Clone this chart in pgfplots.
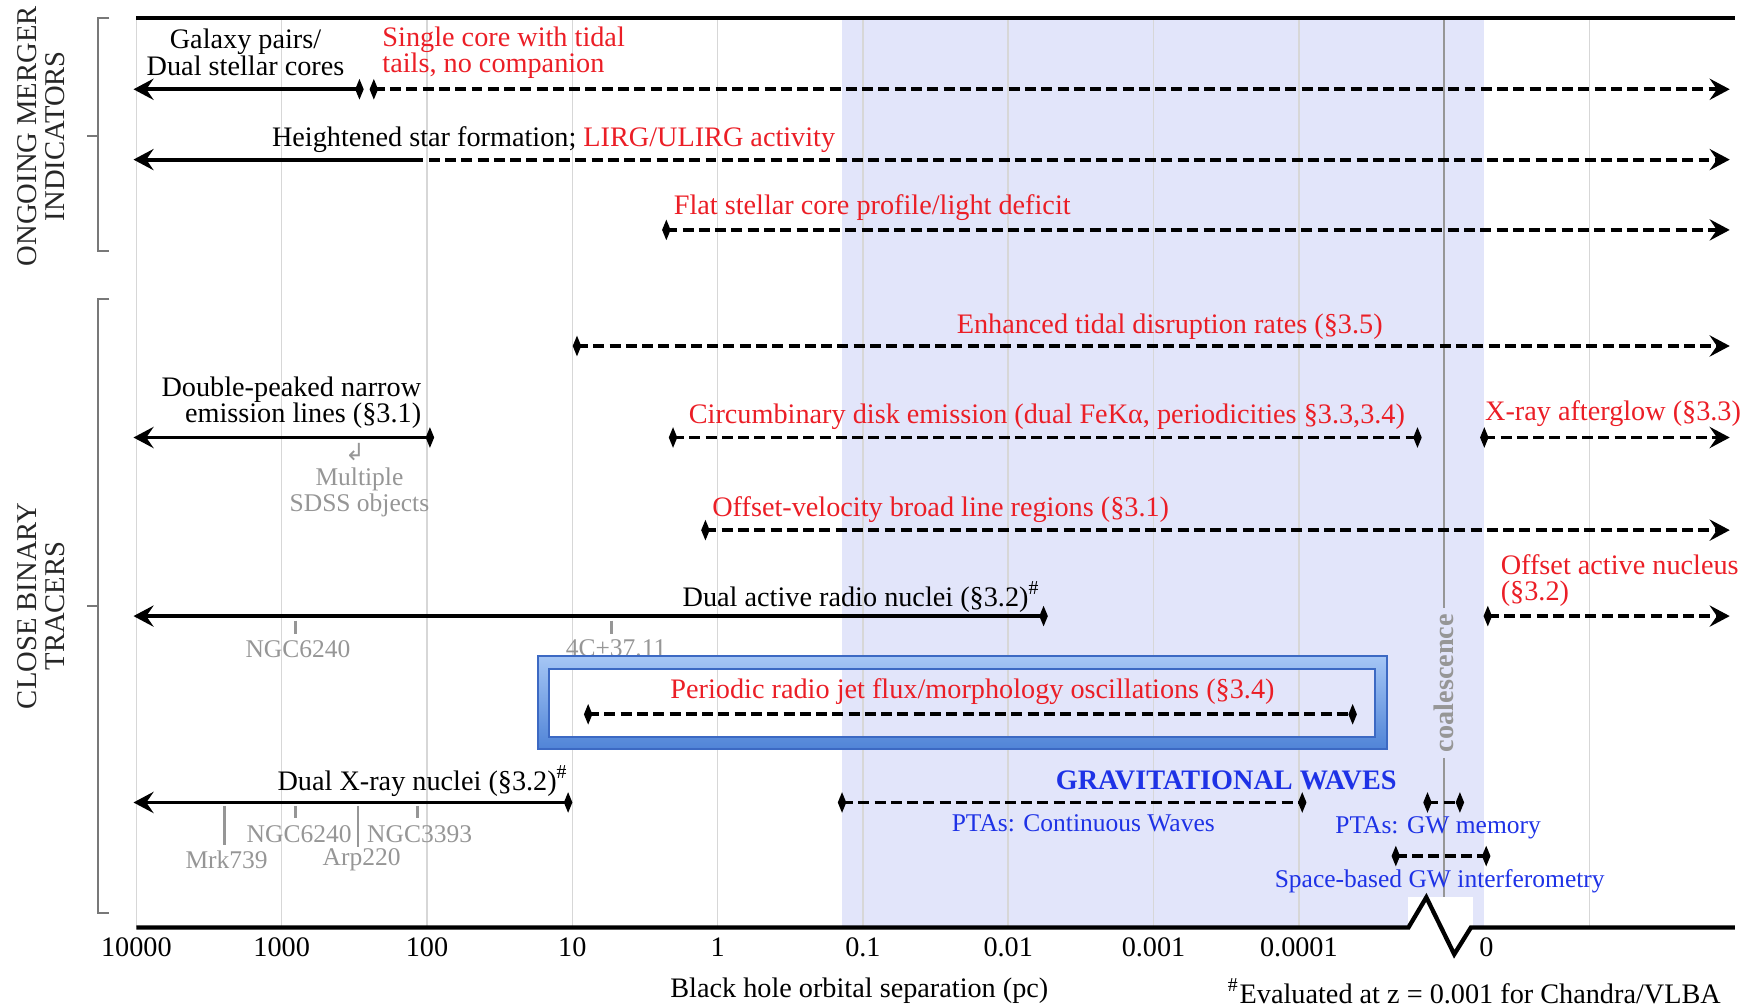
\documentclass[border=0pt]{standalone}
\usepackage{fontspec}
\setmainfont{Liberation Serif}
\newfontfamily\symfont{DejaVu Sans}
\usepackage{pgfplots}
\pgfplotsset{compat=1.18}
\usetikzlibrary{arrows.meta}
\definecolor{redtxt}{RGB}{235,30,38}
\definecolor{bluetxt}{RGB}{30,50,230}
\definecolor{graytxt}{RGB}{150,150,150}
\definecolor{shade}{RGB}{226,229,250}
\definecolor{gridc}{RGB}{215,215,215}
\definecolor{coal}{RGB}{150,150,150}
\definecolor{brk}{RGB}{120,120,120}
\definecolor{frameT}{RGB}{165,198,245}
\definecolor{frameB}{RGB}{80,132,215}
\definecolor{frameE}{RGB}{60,105,195}
\newcommand\mf{\fontsize{7.2}{6.7}\selectfont}
\newcommand\sm{\fontsize{6.5}{6.6}\selectfont}
\tikzset{
  lab/.style={inner sep=0pt, font=\mf},
  small/.style={inner sep=0pt, font=\sm},
}
\pgfplotsset{
  solidarr/.style={black, line width=1pt, solid, mark=none},
  dasharr/.style={black, line width=1pt, dash pattern=on 2.8pt off 1.35pt, mark=none},
  tip/.style={-{Stealth[length=1.8mm,width=1.9mm,inset=0.65mm]}},
  dmd/.style={only marks, mark=diamond*, mark size=2.1pt, mark options={xscale=0.55, solid, fill=black, draw=black}},
  gtick/.style={graytxt, line width=0.7pt, mark=none},
}
\begin{document}
\begin{tikzpicture}
\begin{axis}[
  scale only axis, width=14.322cm, height=8.15cm,
  xmin=-4, xmax=7, ymin=16, ymax=831, y dir=reverse,
  clip=false, axis line style={draw=none},
  xtick={-4,-3,-2,-1,0,1,2,3,4},
  xticklabels={10000,1000,100,10,1,0.1,0.01,0.001,0.0001},
  extra x ticks={5.29}, extra x tick labels={0},
  ytick=\empty, major tick length=0pt,
  xticklabel style={font=\mf, yshift=0.03cm},
]
% bounding box of the whole figure
\path (axis cs:-4.9386,0) rectangle (axis cs:7.1045,903);
% shaded band
\addplot[fill=shade, draw=none] coordinates {(0.856,16) (5.276,16) (5.276,831) (0.856,831)} -- cycle;
% grid lines
\pgfplotsinvokeforeach{-4,-3,-2,-1,0,1,2,3,4,6}{
  \addplot[gridc, line width=0.4pt] coordinates {(#1,16) (#1,831)};
}
% coalescence line
\addplot[coal, line width=0.5pt] coordinates {(5,16) (5,545)};
\addplot[coal, line width=0.5pt] coordinates {(5,679) (5,806)};
\node[rotate=90, inner sep=0pt, font=\fontsize{7.2}{7}\selectfont\bfseries, text=coal] at (axis cs:5,612) {coalescence};
% white patch behind zigzag
\addplot[fill=white, draw=none] coordinates {(4.754,804) (5.20,804) (5.20,831) (4.754,831)} -- cycle;
% top and bottom lines
\addplot[black, line width=1.1pt] coordinates {(-4,16) (7,16)};
\addplot[black, line width=1.1pt, line join=miter] coordinates {(-4,831) (4.754,831) (4.877,804) (5.069,855) (5.184,831) (7,831)};
% brackets
\addplot[brk, line width=0.6pt] coordinates {(-4.186,16) (-4.263,16) (-4.263,225) (-4.186,225)};
\addplot[brk, line width=0.6pt] coordinates {(-4.263,122) (-4.339,122)};
\addplot[brk, line width=0.6pt] coordinates {(-4.186,268) (-4.263,268) (-4.263,818) (-4.186,818)};
\addplot[brk, line width=0.6pt] coordinates {(-4.263,543) (-4.339,543)};
\node[rotate=90, align=center, inner sep=0pt, font=\fontsize{7.3}{7.2}\selectfont, text=black!85] at (axis cs:-4.654,122) {ONGOING MERGER\\INDICATORS};
\node[rotate=90, align=center, inner sep=0pt, font=\fontsize{7.3}{7.2}\selectfont, text=black!85] at (axis cs:-4.654,543) {CLOSE BINARY\\TRACERS};
% Row 1
\addplot[solidarr, tip] coordinates {(-2.465,80) (-4.02,80)};
\addplot[dasharr, tip] coordinates {(-2.366,80) (6.965,80)};
\addplot[dmd] coordinates {(-2.465,80) (-2.366,80)};
\node[lab, align=center] at (axis cs:-3.249,47) {Galaxy pairs/\\Dual stellar cores};
\node[lab, align=left, anchor=west, text=redtxt] at (axis cs:-2.312,47) {Single core with tidal\\tails, no companion};
% Row 2
\addplot[solidarr, tip] coordinates {(-2.1,143) (-4.02,143)};
\addplot[dasharr, tip] coordinates {(-2.1,143) (6.965,143)};
\node[lab, anchor=west] at (axis cs:-3.072,125) {Heightened star formation; \textcolor{redtxt}{LIRG/ULIRG activity}};
% Row 3
\addplot[dasharr, tip] coordinates {(-0.353,206) (6.965,206)};
\addplot[dmd] coordinates {(-0.353,206)};
\node[lab, anchor=west, text=redtxt] at (axis cs:-0.307,186) {Flat stellar core profile/light deficit};
% Row 4
\addplot[dasharr, tip] coordinates {(-0.968,310) (6.965,310)};
\addplot[dmd] coordinates {(-0.968,310)};
\node[lab, text=redtxt] at (axis cs:3.111,293) {Enhanced tidal disruption rates (§3.5)};
% Row 5
\addplot[solidarr, tip] coordinates {(-1.98,392) (-4.02,392)};
\addplot[dasharr] coordinates {(-0.307,392) (4.816,392)};
\addplot[dasharr, tip] coordinates {(5.276,392) (6.965,392)};
\addplot[dmd] coordinates {(-1.98,392) (-0.307,392) (4.816,392) (5.276,392)};
\node[lab, anchor=east, align=right] at (axis cs:-2.035,361) {Double-peaked narrow\\emission lines (§3.1)};
\node[inner sep=0pt, text=graytxt, font=\symfont\fontsize{6}{6}\selectfont] at (axis cs:-2.496,405) {↲};
\node[small, align=center, text=graytxt] at (axis cs:-2.465,441) {Multiple\\SDSS objects};
\node[lab, anchor=west, text=redtxt] at (axis cs:-0.2035,373) {Circumbinary disk emission (dual FeKα, periodicities §3.3,3.4)};
\node[lab, anchor=west, text=redtxt] at (axis cs:5.276,371) {X-ray afterglow (§3.3)};
% Row 6
\addplot[dasharr, tip] coordinates {(-0.084,475) (6.965,475)};
\addplot[dmd] coordinates {(-0.084,475)};
\node[lab, anchor=west, text=redtxt] at (axis cs:-0.042,457) {Offset-velocity broad line regions (§3.1)};
% Row 7
\addplot[solidarr, tip] coordinates {(2.243,552) (-4.02,552)};
\addplot[dasharr, tip] coordinates {(5.30,552) (6.965,552)};
\addplot[dmd] coordinates {(2.243,552) (5.30,552)};
\addplot[gtick] coordinates {(-2.903,556) (-2.903,568)};
\addplot[gtick] coordinates {(-0.730,556) (-0.730,568)};
\node[small, text=graytxt] at (axis cs:-2.888,582) {NGC6240};
\node[small, text=graytxt] at (axis cs:-0.699,581) {4C+37.11};
\node[lab, anchor=west] at (axis cs:-0.246,535) {Dual active radio nuclei (§3.2)\textsuperscript{\#}};
\node[lab, anchor=west, align=left, text=redtxt] at (axis cs:5.384,520) {Offset active nucleus\\(§3.2)};
% Frame
\shade[top color=frameT, bottom color=frameB, even odd rule] (axis cs:-1.2366,588) rectangle (axis cs:4.6083,671) (axis cs:-1.1598,599) rectangle (axis cs:4.5238,660);
\draw[frameE, line width=0.5pt] (axis cs:-1.2366,588) rectangle (axis cs:4.6083,671);
\draw[frameE, line width=0.5pt] (axis cs:-1.1598,599) rectangle (axis cs:4.5238,660);
% Row 8
\addplot[dasharr] coordinates {(-0.891,640) (4.370,640)};
\addplot[dmd] coordinates {(-0.891,640) (4.370,640)};
\node[lab, anchor=west, text=redtxt] at (axis cs:-0.330,620) {Periodic radio jet flux/morphology oscillations (§3.4)};
% Row 9
\addplot[solidarr, tip] coordinates {(-1.029,719) (-4.02,719)};
\addplot[dasharr] coordinates {(0.856,719) (4.023,719)};
\addplot[dasharr] coordinates {(4.885,719) (5.108,719)};
\addplot[dasharr] coordinates {(4.667,767) (5.289,767)};
\addplot[dmd] coordinates {(-1.029,719) (0.856,719) (4.023,719) (4.885,719) (5.108,719) (4.667,767) (5.289,767)};
\node[lab, anchor=west] at (axis cs:-3.034,700) {Dual X-ray nuclei (§3.2)\textsuperscript{\#}};
\addplot[gtick] coordinates {(-3.395,722) (-3.395,757)};
\addplot[gtick] coordinates {(-2.905,722) (-2.905,733)};
\addplot[gtick] coordinates {(-2.475,722) (-2.475,759)};
\addplot[gtick] coordinates {(-2.066,722) (-2.066,733)};
\node[small, text=graytxt] at (axis cs:-2.880,747) {NGC6240};
\node[small, text=graytxt] at (axis cs:-2.051,747) {NGC3393};
\node[small, text=graytxt] at (axis cs:-3.379,770) {Mrk739};
\node[small, text=graytxt] at (axis cs:-2.450,770) {Arp220};
\node[lab, anchor=west, text=bluetxt, font=\mf\bfseries] at (axis cs:2.322,699) {GRAVITATIONAL WAVES};
\node[small, text=bluetxt] at (axis cs:2.516,738) {PTAs: Continuous Waves};
\node[small, text=bluetxt] at (axis cs:4.958,742) {PTAs: GW memory};
\node[small, text=bluetxt] at (axis cs:4.969,790) {Space-based GW interferometry};
% axis label and footnote
\node[lab] at (axis cs:0.975,888) {Black hole orbital separation (pc)};
\node[lab] at (axis cs:5.207,888) {\textsuperscript{\#}Evaluated at z = 0.001 for Chandra/VLBA};
\end{axis}
\end{tikzpicture}
\end{document}
